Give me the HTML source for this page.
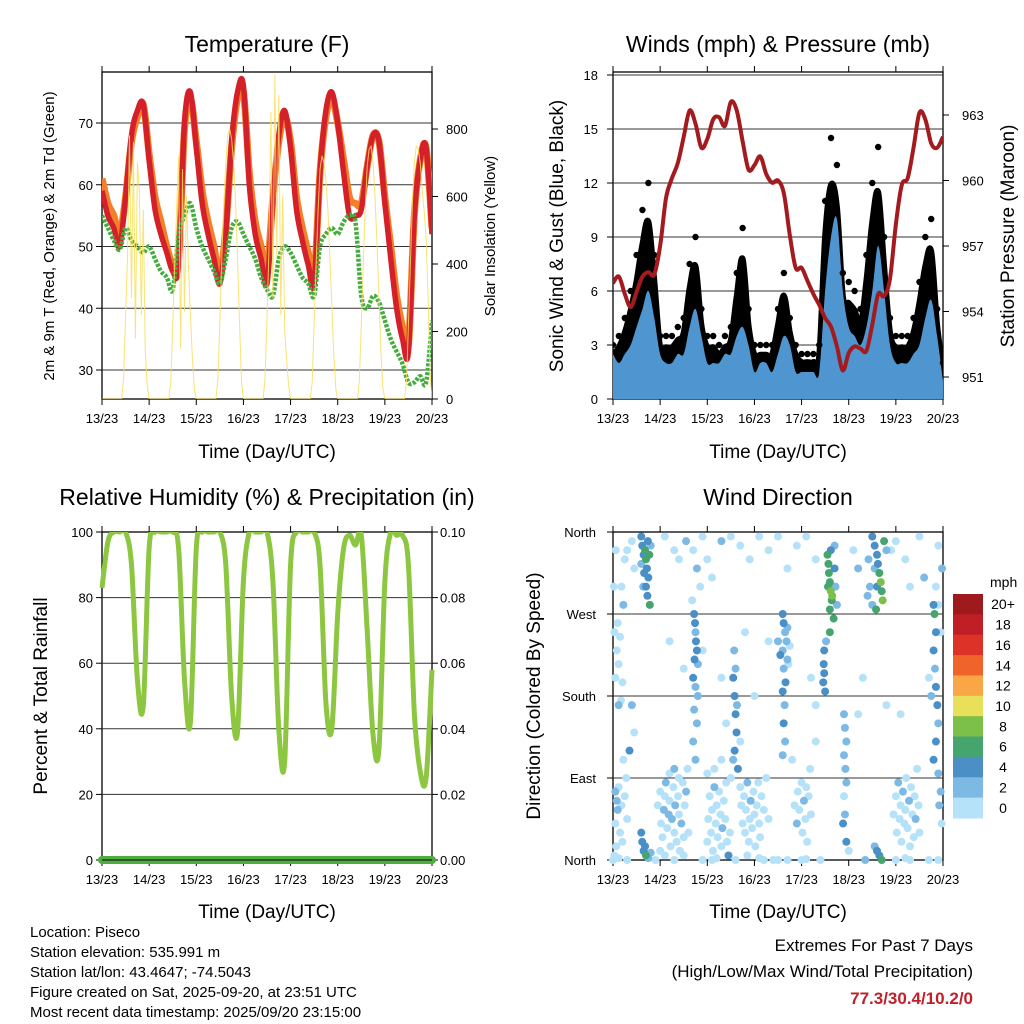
<!DOCTYPE html>
<html><head><meta charset="utf-8"><style>
html,body{margin:0;padding:0;background:#fff;}
svg{display:block;font-family:"Liberation Sans",sans-serif;}
</style></head><body>
<svg id="chart" width="1024" height="1024" viewBox="0 0 1024 1024" xmlns="http://www.w3.org/2000/svg">
<rect x="0" y="0" width="1024" height="1024" fill="#fff"/>
<text x="267" y="52" font-size="23" text-anchor="middle">Temperature (F)</text>
<text x="778" y="52" font-size="23" text-anchor="middle">Winds (mph) &amp; Pressure (mb)</text>
<text x="267" y="505" font-size="23" text-anchor="middle">Relative Humidity (%) &amp; Precipitation (in)</text>
<text x="778" y="505" font-size="23" text-anchor="middle">Wind Direction</text>
<text x="267" y="458" font-size="19" text-anchor="middle">Time (Day/UTC)</text>
<text x="778" y="458" font-size="19" text-anchor="middle">Time (Day/UTC)</text>
<text x="267" y="918" font-size="19" text-anchor="middle">Time (Day/UTC)</text>
<text x="778" y="918" font-size="19" text-anchor="middle">Time (Day/UTC)</text>
<text transform="translate(54,236) rotate(-90)" font-size="15" text-anchor="middle">2m &amp; 9m T (Red, Orange) &amp; 2m Td (Green)</text>
<text transform="translate(495,236) rotate(-90)" font-size="15" text-anchor="middle">Solar Insolation (Yellow)</text>
<text transform="translate(563,236) rotate(-90)" font-size="19" text-anchor="middle">Sonic Wind &amp; Gust (Blue, Black)</text>
<text transform="translate(1014,236) rotate(-90)" font-size="19" text-anchor="middle">Station Pressure (Maroon)</text>
<text transform="translate(47,696) rotate(-90)" font-size="19" text-anchor="middle">Percent &amp; Total Rainfall</text>
<text transform="translate(540,696) rotate(-90)" font-size="19" text-anchor="middle">Direction (Colored By Speed)</text>
<g font-size="15">
<text x="30" y="937">Location: Piseco</text>
<text x="30" y="957">Station elevation: 535.991 m</text>
<text x="30" y="977">Station lat/lon: 43.4647; -74.5043</text>
<text x="30" y="997">Figure created on Sat, 2025-09-20, at 23:51 UTC</text>
<text x="30" y="1017">Most recent data timestamp: 2025/09/20 23:15:00</text>
</g>
<text x="973" y="951" font-size="17" text-anchor="end">Extremes For Past 7 Days</text>
<text x="973" y="977" font-size="17" text-anchor="end">(High/Low/Max Wind/Total Precipitation)</text>
<text x="973" y="1004" font-size="17" font-weight="bold" fill="#c0202a" text-anchor="end">77.3/30.4/10.2/0</text>
</svg>
<script>
const dayLabels=["13/23","14/23","15/23","16/23","17/23","18/23","19/23","20/23"];
const tempTicks=[30,40,50,60,70];
const solarTicks=[0,200,400,600,800];
const windTicks=[0,3,6,9,12,15,18];
const pressTicks=[951,954,957,960,963];
const rhTicks=[0,20,40,60,80,100];
const precipTicks=["0.00","0.02","0.04","0.06","0.08","0.10"];
const dirTicks=[0,90,180,270,360];
const dirTickLabels=["North","East","South","West","North"];
// 3-hourly series (t = i/8 days)
const tempRed=[59,55,53,50,58,68,72,73,64,56,52,49,46,47,70,75,66,57,52,48,44,52,67,75,76,60,52,48,44,57,68,72,66,56,51,47,44,62,72,75,70,62,55,55,56,63,68,67,57,48,40,35,33,55,64,66,52];
const tempOrange=[61,57,55,52,58,67,71,73,65,58,54,50,47,48,69,74,67,59,54,50,45,53,66,74,75,62,54,50,46,58,67,71,67,58,53,49,45,62,71,74,70,64,58,57,57,63,68,67,58,50,42,37,34,55,64,66,53];
const dewGreen=[55,53,51,49.5,53,51,50,49,50,48,46,45,43,52,55,57,53,50,48,46,44,48,53,54,52,50,48,45,43,42,48,50,49,47,45,44,42,50,52,53,52,54,55,54,42,40,42,41,38,35,33,31,28,28,29,28,38];
// hourly solar (W/m2), 169 values
const solar=[
0,0,0,0,0,0,0,0,0,0,0, 60,250,420,780,300,760,180,700,620,250,560,150,40,
0,0,0,0,0,0,0,0,0,0,0, 50,220,400,560,720,150,680,260,600,400,250,120,30,
0,0,0,0,0,0,0,0,0,0,0, 60,230,420,580,700,780,800,770,700,580,420,230,50,
0,0,0,0,0,0,0,0,0,0,0, 60,240,450,850,300,960,420,900,250,600,200,120,40,
0,0,0,0,0,0,0,0,0,0,0, 50,220,400,560,680,720,700,650,560,420,280,130,30,
0,0,0,0,0,0,0,0,0,0,0, 50,220,400,560,690,740,750,700,600,460,300,140,30,
0,0,0,0,0,0,0,0,0,0,0, 50,220,400,580,700,750,740,700,620,560,480,300,80,
0];
const windSpeed=[2.5,2,2.5,3,4,5,6,4.5,2.5,2,2,2.5,2.5,4,5,3.5,2,2,2,2.5,2.5,3.5,4,3,1.5,2,2,1.5,2.5,3.5,3,1.5,1.5,1.5,1.5,1.5,6,9,10,6,4,3.5,3,4,6,8.5,6,3,2,2,2,2.5,3,4.5,5.5,3.5,1];
const windGust=[3,3.5,4.5,6,8,10.5,12,8,3.5,3.5,3.5,4,4.5,7.5,9,5,3.5,3.5,3,3.5,4,7,9.5,5,3,3,3,3,5,7,4.5,3,2.5,2.5,2.5,3,11,14.5,13,7,6.5,6,5,8,12,14,9,4.5,3.5,3.5,3.5,4.5,6.5,9,10,5,2];
const pressure=[955.3,955.6,954.8,954.2,954.9,955.6,955.8,955.7,957.0,959.2,960.1,960.8,962.0,963.2,962.6,961.5,961.9,962.8,962.9,962.5,963.6,963.2,961.8,960.5,960.7,961.1,960.3,959.9,960.0,959.4,957.5,956.0,956.0,955.4,954.8,954.3,953.7,953.3,952.4,951.3,952.1,952.4,952.3,952.2,953.4,954.8,954.7,955.5,958.0,959.8,960.1,961.5,963.1,962.8,961.7,961.5,962.0];
const relHum=[83,97,100,100,100,90,55,47,95,100,100,100,100,95,55,42,95,100,100,100,100,90,50,39,85,100,100,100,100,85,40,30,90,100,100,100,100,90,48,40,75,95,99,96,99,70,38,34,85,100,99,99,90,45,27,25,58];
const precip=[0,0,0,0,0,0,0,0];
const dirTime=[
0.05,0.08,0.03,0.12,0.15,0.1,0.2,0.02,0.18,0.25,0.06,0.22,0.17,0.12,
0.05,0.08,0.1,0.12,0.05,0.15,0.2,0.07,0.18,0.25,0.3,0.03,0.12,0.28,0.22,0.35,
0.6,0.62,0.65,0.68,0.7,0.72,0.66,0.74,0.75,0.7,0.73,0.78,0.64,0.6,0.77,0.8,
0.6,0.62,0.65,0.7,0.68,0.75,0.8,
0.95,1.0,1.02,1.05,1.08,1.1,1.12,1.15,1.18,1.2,1.22,1.25,1.28,1.3,1.32,1.35,1.38,1.4,1.42,1.45,1.48,1.5,1.52,1.55,1.0,1.1,1.2,1.3,1.4,1.5,1.6,1.58,
1.72,1.74,1.75,1.76,1.78,1.73,1.8,1.7,1.75,1.8,1.72,1.78,1.7,1.75,1.68,1.85,1.78,
2.0,2.02,2.05,2.08,2.1,2.12,2.15,2.18,2.2,2.22,2.25,2.28,2.3,2.32,2.35,2.38,2.4,2.42,2.45,2.48,2.1,2.2,2.0,2.15,2.3,
2.55,2.58,2.6,2.62,2.58,2.65,2.6,2.57,2.63,2.5,2.55,2.4,2.7,
2.7,2.72,2.75,2.78,2.8,2.82,2.85,2.88,2.9,2.92,2.95,2.98,3.0,3.02,3.05,3.08,3.1,3.12,3.15,3.2,3.25,3.3,2.85,3.1,3.4,
3.6,3.62,3.65,3.68,3.6,3.7,3.62,3.66,3.6,3.64,3.62,3.65,3.6,3.7,3.75,3.72,3.5,3.55,
3.85,3.9,3.92,3.95,4.0,4.02,4.05,4.08,4.1,4.12,4.15,4.18,4.2,4.0,4.1,3.8,4.3,
4.55,4.57,4.58,4.6,4.62,4.64,4.6,4.65,4.56,4.7,4.72,4.75,4.68,4.6,4.62,4.7,
4.48,4.47,4.48,4.46,4.5,4.52,
4.9,4.92,4.95,4.9,4.93,4.95,4.9,4.92,4.88,4.95,5.0,
5.5,5.55,5.6,5.62,5.65,5.68,5.7,5.72,5.6,5.55,5.5,5.75,5.45,5.4,5.58,5.8,5.42,
5.6,5.65,5.7,5.55,
5.95,6.0,6.02,6.05,6.08,6.1,6.12,6.15,6.18,6.2,6.22,6.25,6.28,6.3,6.32,6.35,6.38,6.4,6.42,6.45,6.48,6.5,6.0,6.2,
6.8,6.82,6.85,6.8,6.83,6.85,6.88,6.9,6.85,6.8,6.9,6.95,6.92,6.97,6.75,6.7,6.95,6.98,6.9,6.85,
1.1,1.3,1.4,1.55,1.7,1.9,2.0,2.1,2.3,2.5,2.7,2.9,3.1,3.3,3.5,3.7,3.9,4.1,4.3,5.1,5.2,5.9,6.0,6.2,6.3,6.5,6.6,6.9,0.4,0.3,0.45,1.9,2.3,2.8,3.3,4.2,5.2,5.3,5.8,6.1,0.45,0.4,1.2,1.5,3.0,4.3,
0.0,0.3,0.9,1.3,1.9,2.6,3.2,3.5,3.7,4.4,6.3,6.7,6.9,5.35];
const dirDeg=[
200,230,250,215,245,260,195,300,300,330,340,280,175,170,
75,65,55,80,40,30,20,15,60,70,45,5,2,90,110,120,
355,345,335,340,330,320,315,350,310,300,290,280,300,325,335,345,
30,20,10,5,15,2,8,
60,75,40,25,55,70,85,35,50,65,15,45,80,30,60,20,70,50,10,40,85,25,60,75,10,5,95,100,90,5,30,100,
270,260,250,240,230,220,215,200,190,180,165,150,130,110,285,300,320,
20,45,70,30,55,10,80,40,60,25,75,50,15,35,65,45,85,20,5,30,0,2,95,100,110,
200,180,160,140,120,100,210,230,170,90,110,150,130,
80,60,40,70,30,55,85,20,45,65,35,75,50,15,60,85,40,25,70,55,90,45,5,2,0,
270,260,250,240,230,220,210,195,185,170,150,130,115,255,235,215,240,225,
60,40,75,55,85,30,65,45,80,20,70,100,50,0,1,110,130,
335,325,315,305,295,285,275,290,300,320,300,280,265,250,340,345,
230,215,205,195,185,240,
160,145,130,115,100,85,70,50,40,20,10,
355,345,335,325,315,305,295,285,300,320,280,350,300,290,275,340,330,
10,5,0,15,
50,70,30,85,45,60,20,75,40,55,90,35,65,15,80,50,25,70,45,100,60,30,0,2,
280,270,250,230,210,190,170,150,130,110,95,75,60,40,180,200,250,320,345,300,
355,340,330,350,340,355,330,310,350,355,345,330,355,340,355,320,345,355,330,340,320,340,350,330,300,355,310,280,350,340,320,230,200,250,240,200,160,200,170,160,140,170,240,210,180,170,
0,0,0,0,0,0,0,0,0,0,0,0,0,0];
const dirSpeed=[
1,1,1,1,1,1.5,1,1,1,1,1,3,1,3,
3,3,2.5,1,1,1,1,1,1,1,1,1,1,1,1,4,
4,4.5,5,6.5,6.5,5,4.5,4,5,4,4,6.5,3,3,6.5,3,
4,4,4.5,6.5,4,3,2,
1,1,1,1,3,1,2.5,1,3,1,1,2.5,1,1,3,1,1,1,1,2.5,1,1,1,3,1,1,1,3,1,1,1,1,
4,4,3,4,4,4,3,4,3,3,3,3,3,3,1,1,2.5,
1,1,1,1,1,1,3,1,1,1,1,1,1,3,1,1,1,1,4,1,1,1,1,1,1,
4,4,4,4,4,4,3,3,3,1,3,1,1,
1,1,1,1,1,1,3,1,1,3,1,1,1,1,1,1,1,1,1,1,1,1,1,1,1,
4,4,3,3,3,3,3,4,4,3,4,3,3,2.5,1,1,3,4,
1,3,1,1,1,1,3,1,1,1,1,1,1,1,1,1,1,
6.5,6.5,7,6.5,8,7,6.5,9,6,4,3,3,6.5,6.5,4,3,
4,4,4,4,4,3,
3,3,3,3,3,3,1,3,4,4,1,
4,4,4,4,6.5,8,6.5,8,4,3,3,6.5,3,3,6.5,3,2.5,
4,4,6.5,3,
1,1,1,3,1,1,1,3,1,1,1,1,3,1,1,1,1,1,3,1,1,1,1,1,
4,6.5,4,4,3,4,4,3,4,4,3,3,3,1,3,1,1,3,1,1,
1,1,1,3,1,1,1,1,2.5,1,1,1,1,1,1,1,1,1,1,1,3,1,1,1,1,1,3,1,1,1,1,1,1,1,1,1,1,1,1,1,1,3,1,1,1,1,
1,1,1,1,1,1,1,1,1,1,1,1,1,2.5];
const speedBins=["0","2","4","6","8","10","12","14","16","18","20+"];
const speedColors=["#b5e2f8","#7db9e5","#4a8fc6","#46a56e","#7cc04a","#e8e05a","#f9a746","#f0632a","#dd3228","#c11f26","#9e1a1d"];

const NS="http://www.w3.org/2000/svg";
const svg=document.getElementById('chart');
function mk(tag,attrs,parent){const e=document.createElementNS(NS,tag);for(const k in attrs)e.setAttribute(k,attrs[k]);(parent||svg).appendChild(e);return e;}
function lin(d0,d1,r0,r1){return v=>r0+(v-d0)*(r1-r0)/(d1-d0);}

const P1={x0:102,x1:432,y0:72,y1:399};
const P2={x0:613,x1:943,y0:72,y1:399};
const P3={x0:102,x1:432,y0:532,y1:860};
const P4={x0:613,x1:943,y0:532,y1:860};

function frame(P,name){
  const r=mk('rect',{x:P.x0,y:P.y0,width:P.x1-P.x0,height:P.y1-P.y0,fill:'none',stroke:'#000','stroke-width':1.3});
  
  
  const tx=lin(0,7,P.x0,P.x1);
  const g=mk('g',{});
  
  
  dayLabels.forEach((lab,i)=>{
    const x=tx(i);
    mk('line',{x1:x,x2:x,y1:P.y1,y2:P.y1+6,stroke:'#000','stroke-width':1},g);
    mk('line',{x1:x,x2:x,y1:P.y0,y2:P.y0-6,stroke:'#000','stroke-width':1},g);
    const t=mk('text',{x:x,y:P.y1+24,'font-size':13,'text-anchor':'middle'},g);
    t.textContent=lab;
    
    
  });
  return tx;
}
function grid(P,vals,sy,labels,name,labelX,anchor,gridOn){
  const g=mk('g',{});
  
  
  vals.forEach((v,i)=>{
    const y=sy(v);
    if(gridOn&&y>P.y0+1&&y<P.y1-1) mk('line',{x1:P.x0,x2:P.x1,y1:y,y2:y,stroke:'#333','stroke-width':1},g);
    const side=anchor==='end'?-1:1;const bx=anchor==='end'?P.x0:P.x1;
    mk('line',{x1:bx,x2:bx+side*6,y1:y,y2:y,stroke:'#000','stroke-width':1},g);
    const t=mk('text',{x:labelX,y:y+5,'font-size':13,'text-anchor':anchor},g);
    t.textContent=labels?labels[i]:v;
    
    
  });
}
function pathFrom(xs,ys){return xs.map((x,i)=>(i?'L':'M')+x.toFixed(1)+','+ys[i].toFixed(1)).join('');}
function smooth(xs,ys){
  let d='M'+xs[0].toFixed(1)+','+ys[0].toFixed(1);
  for(let i=0;i<xs.length-1;i++){
    const x0=xs[Math.max(0,i-1)],y0=ys[Math.max(0,i-1)],x1=xs[i],y1=ys[i],x2=xs[i+1],y2=ys[i+1],x3=xs[Math.min(xs.length-1,i+2)],y3=ys[Math.min(xs.length-1,i+2)];
    const c1x=x1+(x2-x0)/6,c1y=y1+(y2-y0)/6,c2x=x2-(x3-x1)/6,c2y=y2-(y3-y1)/6;
    d+='C'+c1x.toFixed(1)+','+c1y.toFixed(1)+' '+c2x.toFixed(1)+','+c2y.toFixed(1)+' '+x2.toFixed(1)+','+y2.toFixed(1);
  }
  return d;
}

// ---------- Panel 1: temperature ----------
(function(){
  const tx=frame(P1,'temperature');
  const sy=lin(70,30,123,370);
  const ss=lin(0,800,399,129);
  grid(P1,tempTicks,sy,null,'temp-y-axis',93,'end',true);
  grid(P1,solarTicks,ss,null,'solar-y-axis',446,'start',false);
  const cp=mk('clipPath',{id:'c1'});mk('rect',{x:P1.x0,y:P1.y0,width:P1.x1-P1.x0,height:P1.y1-P1.y0},cp);
  const g=mk('g',{'clip-path':'url(#c1)'});
  const xs=tempRed.map((_,i)=>tx(i/8));
  const o=mk('path',{d:smooth(xs,tempOrange.map(sy)),fill:'none',stroke:'#f47f2a','stroke-width':7,'stroke-linejoin':'round'},g);
  
  
  const r=mk('path',{d:smooth(xs,tempRed.map(sy)),fill:'none',stroke:'#d42028','stroke-width':5.5,'stroke-linejoin':'round'},g);
  
  
  const gr=mk('path',{d:smooth(xs,dewGreen.map(sy)),fill:'none',stroke:'#45ad3e','stroke-width':4.5,'stroke-dasharray':'3 1.5','stroke-linejoin':'round'},g);
  
  
  const sx=solar.map((_,i)=>tx(i/24));
  const y=mk('path',{d:pathFrom(sx,solar.map(ss)),fill:'none',stroke:'#f6df5a','stroke-width':1,'stroke-opacity':0.85,'stroke-linejoin':'round'},g);
  
  
})();

// ---------- Panel 2: winds & pressure ----------
(function(){
  const tx=frame(P2,'winds');
  const sy=lin(0,18,399,75);
  const sp=lin(951,963,377,115);
  grid(P2,windTicks,sy,null,'wind-y-axis',598,'end',true);
  grid(P2,pressTicks,sp,null,'pressure-y-axis',962,'start',false);
  mk('line',{x1:P2.x0,x2:P2.x1,y1:75,y2:75,stroke:'#333','stroke-width':1});
  const cp=mk('clipPath',{id:'c2'});mk('rect',{x:P2.x0,y:P2.y0,width:P2.x1-P2.x0,height:P2.y1-P2.y0},cp);
  const g=mk('g',{'clip-path':'url(#c2)'});
  const xs=windGust.map((_,i)=>tx(i/8));
  const ga=mk('path',{d:smooth(xs,windGust.map(v=>sy(v*0.82)))+'L'+P2.x1+','+P2.y1+'L'+P2.x0+','+P2.y1+'Z',fill:'#000',stroke:'#000','stroke-width':6,'stroke-linejoin':'round'},g);
  
  
  const ba=mk('path',{d:smooth(xs,windSpeed.map(sy))+'L'+P2.x1+','+P2.y1+'L'+P2.x0+','+P2.y1+'Z',fill:'#4f95d0'},g);
  
  
  windGust.forEach((v,i)=>{
    const c=mk('circle',{cx:xs[i],cy:sy(v),r:3.2,fill:'#000'},g);
    
    
  });
  const p=mk('path',{d:smooth(pressure.map((_,i)=>tx(i/8)),pressure.map(sp)),fill:'none',stroke:'#a31b1f','stroke-width':4,'stroke-linejoin':'round'},g);
  
  
})();

// ---------- Panel 3: RH & precip ----------
(function(){
  const tx=frame(P3,'humidity');
  const sy=lin(0,100,860,532);
  grid(P3,rhTicks,sy,null,'rh-y-axis',93,'end',true);
  grid(P3,rhTicks,sy,precipTicks,'precip-y-axis',440,'start',false);
  const cp=mk('clipPath',{id:'c3'});mk('rect',{x:P3.x0-4,y:P3.y0,width:P3.x1-P3.x0+8,height:P3.y1-P3.y0+6},cp);
  const g=mk('g',{'clip-path':'url(#c3)'});
  const xs=relHum.map((_,i)=>tx(i/8));
  const l=mk('path',{d:smooth(xs,relHum.map(v=>sy(v))),fill:'none',stroke:'#8dc641','stroke-width':5,'stroke-linejoin':'round'},g);
  
  
  const sp=lin(0,0.1,860,532);
  const pl=mk('path',{d:pathFrom(precip.map((_,i)=>tx(i)),precip.map(sp)),fill:'none',stroke:'#4cae3e','stroke-width':8,'stroke-linecap':'round'},g);
  
  
  mk('line',{x1:P3.x0,x2:P3.x1,y1:860,y2:860,stroke:'#222','stroke-width':1.2});
})();

// ---------- Panel 4: wind direction ----------
(function(){
  const tx=frame(P4,'wind-direction');
  const sy=lin(0,360,860,532);
  grid(P4,dirTicks,sy,dirTickLabels,'direction-y-axis',596,'end',true);
  const g=mk('g',{});
  
  
  const n=Math.min(dirTime.length,dirDeg.length,dirSpeed.length);
  const idx=[...Array(n).keys()].sort((a,b)=>dirSpeed[a]-dirSpeed[b]);
  idx.forEach(i=>{
    const b=Math.min(10,Math.floor(dirSpeed[i]/2));
    const c=mk('circle',{cx:tx(dirTime[i]),cy:sy(dirDeg[i]),r:4,fill:speedColors[b]},g);
    
    
  });
  const lg=mk('g',{});
  
  
  const t=mk('text',{x:990,y:587,'font-size':14},lg);t.textContent='mph';
  
  
  const h=224/11;
  for(let k=10;k>=0;k--){
    const y=594+(10-k)*h;
    const r=mk('rect',{x:953,y:y,width:30,height:h+0.5,fill:speedColors[k]},lg);
    
    
    const tt=mk('text',{x:1003,y:y+h/2+5,'font-size':14,'text-anchor':'middle'},lg);
    tt.textContent=speedBins[k];
    
    
  }
})();
</script>
</body></html>
